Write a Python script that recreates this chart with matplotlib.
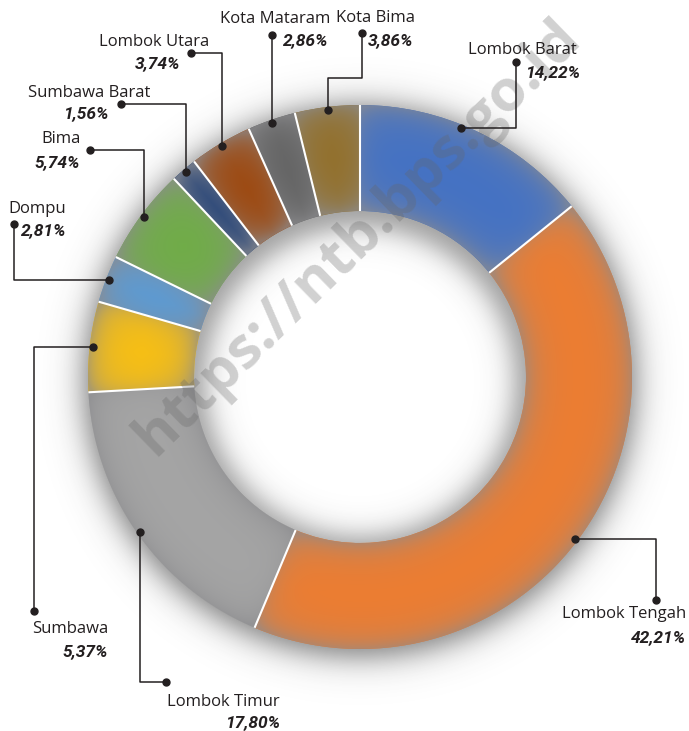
import numpy as np
import matplotlib.pyplot as plt
import matplotlib.colors as mcolors

W, H = 689, 731

regions = ["Lombok Barat", "Lombok Tengah", "Lombok Timur", "Sumbawa", "Dompu",
           "Bima", "Sumbawa Barat", "Lombok Utara", "Kota Mataram", "Kota Bima"]
shares = [14.22, 42.21, 17.80, 5.37, 2.81, 5.74, 1.56, 3.74, 2.86, 3.86]
colors = ["#4472C4", "#ED7D31", "#A5A5A5", "#F9C012", "#5B9BD5",
          "#70AD47", "#264478", "#9E480E", "#636363", "#93702A"]

# label layout in pixel coords (y down)
layout = {
    "Lombok Barat": dict(frac=0.43, route="hv", end=(516, 62), name=(468, 54, "left"), pct=(525, 77, "left")),
    "Lombok Tengah": dict(route="hv", end=(656, 600), name=(686, 618, "right"), pct=(686, 642, "right")),
    "Lombok Timur": dict(route="vh", end=(166, 682), name=(280, 706, "right"), pct=(280, 727, "right")),
    "Sumbawa": dict(route="hv", end=(34, 611), name=(108, 633, "right"), pct=(108, 656, "right")),
    "Dompu": dict(route="hv", end=(14, 224), name=(8, 213, "left"), pct=(21, 235, "left")),
    "Bima": dict(route="vh", end=(90, 150), name=(81, 143, "right"), pct=(80, 167, "right")),
    "Sumbawa Barat": dict(route="vh", end=(121, 104), name=(150, 97, "right"), pct=(109, 118, "right")),
    "Lombok Utara": dict(route="vh", end=(191, 53), name=(209, 46, "right"), pct=(180, 68, "right")),
    "Kota Mataram": dict(route="v", end=(274, 35), name=(330, 23, "right"), pct=(283, 45, "left")),
    "Kota Bima": dict(route="vhv", mid=78, end=(362, 33), name=(336, 22, "left"), pct=(368, 45, "left")),
}

cx, cy = 360, H - 377
R, r_in = 272, 166
ink = "#231f20"

fig = plt.figure(figsize=(W / 100, H / 100), dpi=100)
ax = fig.add_axes([0, 0, 1, 1])

# pixel grid for the shading images
X, Y = np.meshgrid(np.arange(W) + 0.5, H - (np.arange(H) + 0.5))


def soft(x, s):
    return 1 / (1 + np.exp(np.clip(1.7 * x / s, -50, 50)))


# drop shadow outside and inner shadow in the hole
d_out = np.hypot(X - cx, Y - (cy - 4))
a_out = 0.66 * soft(d_out - (R + 4), 16)
d_hole = np.hypot(X - cx, Y - (cy - 5))
a_in = 0.5 * (1 - soft(d_hole - (r_in - 12), 14))
r = np.hypot(X - cx, Y - cy)
sh = np.zeros((H, W, 4))
sh[..., :3] = 0.22
sh[..., 3] = np.where(r < (R + r_in) / 2, a_in, a_out)
ax.imshow(sh, extent=(0, W, 0, H), origin="upper", interpolation="nearest", zorder=0)

wedges, _ = ax.pie(shares, colors=colors, radius=R, center=(cx, cy), startangle=90,
                   counterclock=False, wedgeprops=dict(width=R - r_in, linewidth=0))
for w in wedges:
    w.set_zorder(1)

# bevel shading of each wedge
phi = np.degrees(np.arctan2(Y - cy, X - cx)) % 360
ring = np.zeros((H, W, 4))
gray = np.array([0.55, 0.55, 0.56])
d_rad = np.minimum(R - r, r - r_in)
for w, c in zip(wedges, colors):
    span = w.theta2 - w.theta1
    rel = (phi - w.theta1) % 360
    m = rel <= span
    d_ang = np.radians(np.minimum(rel, span - rel)) * r
    t = 0.6 * np.exp(-np.maximum(d_rad, 0) / 14) + 0.3 * np.exp(-d_ang / 12)
    t = np.clip(t, 0, 0.7)[..., None]
    rgb = np.array(mcolors.to_rgb(c)) * (1 - t) + gray * t
    ring[..., :3] = np.where(m[..., None], rgb, ring[..., :3])
ring[..., 3] = np.clip(R - r + 0.5, 0, 1) * np.clip(r - r_in + 0.5, 0, 1)
ax.imshow(ring, extent=(0, W, 0, H), origin="upper", interpolation="nearest", zorder=2)

# white separators
for w in wedges:
    a = np.radians(w.theta1)
    ax.plot([cx + r_in * np.cos(a), cx + R * np.cos(a)],
            [cy + r_in * np.sin(a), cy + R * np.sin(a)],
            color="white", lw=1.5, zorder=3, solid_capstyle="butt")

# watermark
ax.text(358, H - 238, "https://ntb.bps.go.id", rotation=44.3, rotation_mode="anchor",
        ha="center", va="center", fontsize=42, fontweight="bold", family="Open Sans",
        color=(0.4, 0.4, 0.4), alpha=0.3, zorder=4)

# leaders and labels
for w, name, v in zip(wedges, regions, shares):
    lay = layout[name]
    frac = lay.get("frac", 0.5)
    ang = np.radians(w.theta2 - frac * (w.theta2 - w.theta1))
    px, py = cx + (R - 3) * np.cos(ang), H - (cy + (R - 3) * np.sin(ang))
    ex, ey = lay["end"]
    route = lay["route"]
    if route == "hv":
        pts = [(px, py), (ex, py), (ex, ey)]
    elif route == "vh":
        pts = [(px, py), (px, ey), (ex, ey)]
    elif route == "v":
        pts = [(px, py), (px, ey)]
    else:
        pts = [(px, py), (px, lay["mid"]), (ex, lay["mid"]), (ex, ey)]
    xs = [p[0] for p in pts]
    ys = [H - p[1] for p in pts]
    ax.plot(xs, ys, color=ink, lw=1.1, zorder=5)
    ax.plot([xs[0], xs[-1]], [ys[0], ys[-1]], "o", color=ink, ms=5, zorder=6)

    nx, ny, nha = lay["name"]
    ax.text(nx, H - ny, name, ha=nha, va="baseline", fontsize=12, family="Open Sans",
            color=ink, zorder=6)
    tx, ty, tha = lay["pct"]
    pct = f"{v:.2f}".replace(".", ",") + "%"
    ax.text(tx, H - ty, pct, ha=tha, va="baseline", fontsize=12.5, fontweight="bold",
            style="italic", family="Roboto", color=ink, zorder=6)

ax.set_xlim(0, W)
ax.set_ylim(0, H)
ax.set_aspect("auto")
ax.axis("off")
fig.savefig("out.png", dpi=100)
